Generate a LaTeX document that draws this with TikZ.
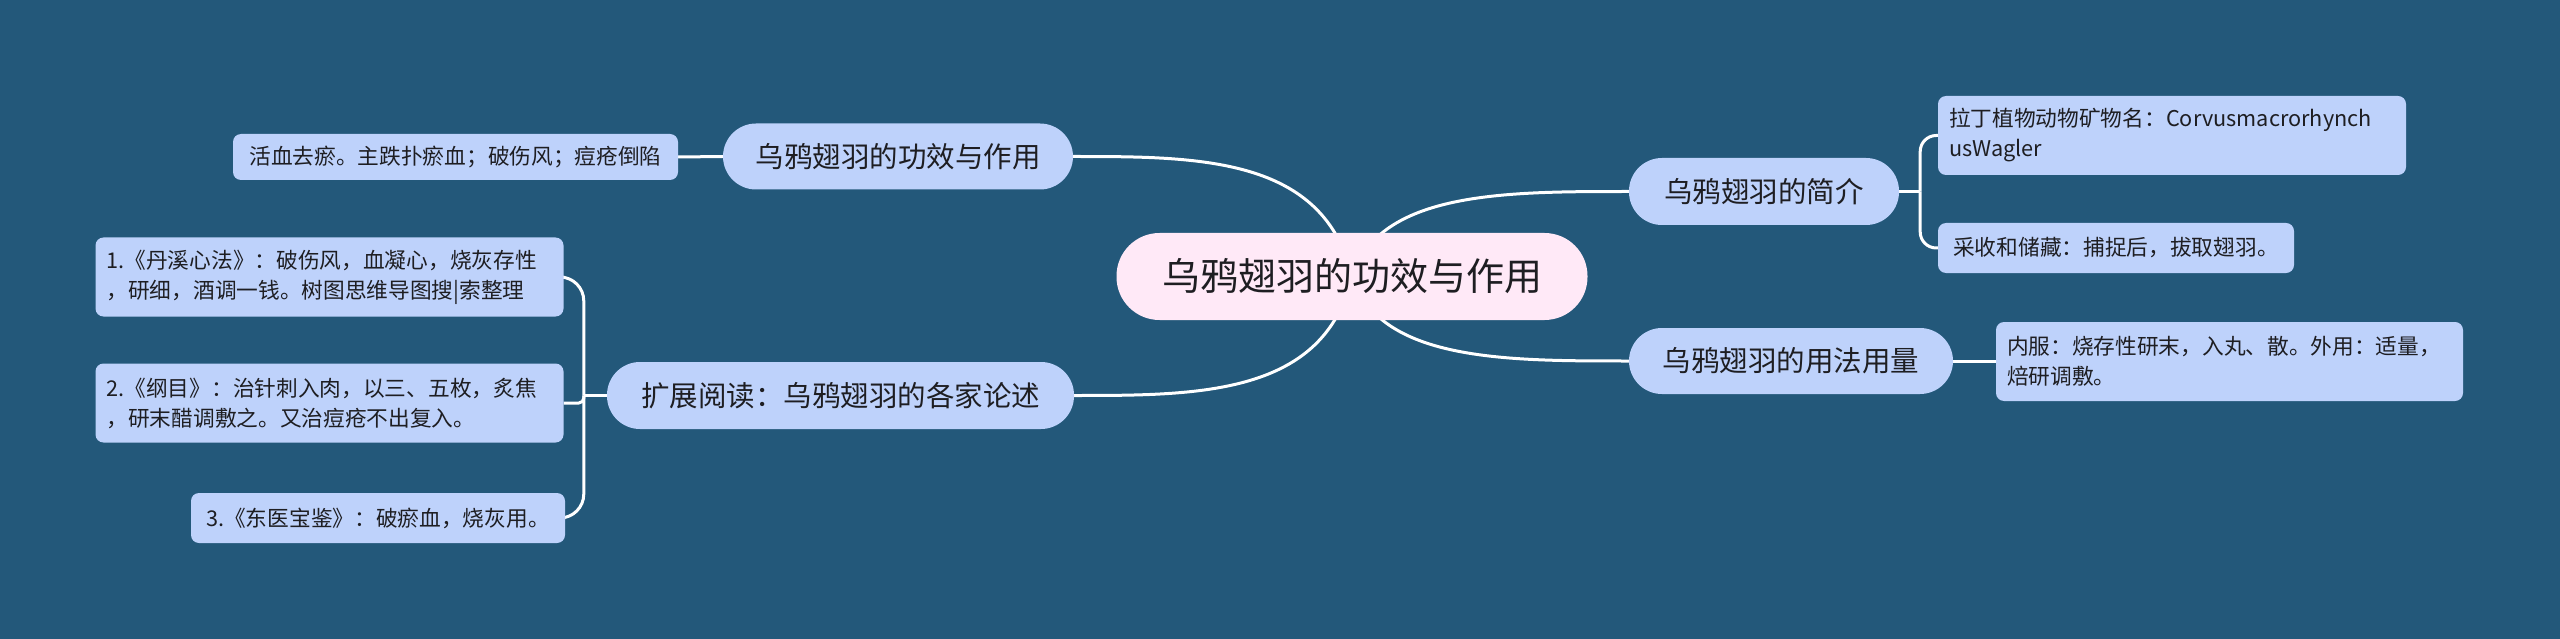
\documentclass[tikz,border=0pt]{standalone}
\usepackage{fontspec}
\setmainfont{Noto Sans CJK SC}
\usetikzlibrary{calc}
\pgfdeclarelayer{background}
\pgfsetlayers{background,main}
\definecolor{bgc}{RGB}{35,88,122}
\definecolor{nodec}{RGB}{190,210,251}
\definecolor{rootc}{RGB}{255,233,247}
\definecolor{txtc}{RGB}{30,30,34}
\tikzset{
  rootnode/.style={fill=rootc, rounded corners=43pt, minimum width=471pt, minimum height=87pt, inner sep=0pt, font=\fontsize{38}{46}\selectfont, text=txtc},
  topic/.style={fill=nodec, rounded corners=33pt, minimum height=66pt, inner sep=0pt, font=\fontsize{28.5}{34}\selectfont, text=txtc},
  leaf/.style={fill=nodec, rounded corners=8pt, inner xsep=11pt, inner ysep=0pt, font=\fontsize{21.7}{30}\selectfont, text=txtc, align=left},
  conn/.style={draw=white, line width=3pt},
}
\begin{document}
\begin{tikzpicture}[x=1pt,y=-1pt]
\useasboundingbox (0,0) rectangle (2560,639);
% central and main topics
\node[rootnode] (root) at (1352,276.5) {乌鸦翅羽的功效与作用};
\node[topic, minimum width=350pt] (n1) at (898,156.5) {乌鸦翅羽的功效与作用};
\node[topic, minimum width=467pt, minimum height=67pt] (n2) at (840.5,395.5) {扩展阅读：乌鸦翅羽的各家论述};
\node[topic, minimum width=270pt, minimum height=67pt] (n3) at (1764,191.5) {乌鸦翅羽的简介};
\node[topic, minimum width=324pt] (n4) at (1791,361) {乌鸦翅羽的用法用量};
% leaves
\node[leaf, minimum width=445pt, minimum height=46pt] (a1) at (455.5,157) {活血去瘀。主跌扑瘀血；破伤风；痘疮倒陷};
\node[leaf, text width=446pt, minimum height=79pt] (b1) at (329.5,277) {1.《丹溪心法》：破伤风，血凝心，烧灰存性\\，研细，酒调一钱。树图思维导图搜|索整理};
\node[leaf, text width=446pt, minimum height=79pt] (b2) at (329.5,403) {2.《纲目》：治针刺入肉，以三、五枚，炙焦\\，研末醋调敷之。又治痘疮不出复入。};
\node[leaf, minimum width=374pt, minimum height=50pt] (b3) at (378,518) {3.《东医宝鉴》：破瘀血，烧灰用。};
\node[leaf, text width=446pt, minimum height=79pt] (c1) at (2172,135.5) {拉丁植物动物矿物名：Corvusmacrorhynch\\usWagler};
\node[leaf, minimum width=356pt, minimum height=50pt] (c2) at (2116,248) {采收和储藏：捕捉后，拔取翅羽。};
\node[leaf, text width=445pt, minimum height=79pt] (d1) at (2229.5,361.5) {内服：烧存性研末，入丸、散。外用：适量，\\焙研调敷。};
\begin{pgfonlayer}{background}
\fill[bgc] (0,0) rectangle (2560,639);
% central connectors
\draw[conn] (root.center) .. controls (1324,156.5) and (1199,156.5) .. (n1.east);
\draw[conn] (root.center) .. controls (1324,395.5) and (1199,395.5) .. (n2.east);
\draw[conn] (root.center) .. controls (1380,191.5) and (1504,191.5) .. (n3.west);
\draw[conn] (root.center) .. controls (1380,361) and (1504,361) .. (n4.west);
% branch connectors
\draw[conn] (n1.west) -- (a1.east);
\coordinate (j2) at ($(n2.west)+(-23,0)$);
\draw[conn] (n2.west) -- (j2);
\draw[conn, rounded corners=24pt] (j2) |- (b1.east);
\draw[conn, rounded corners=5pt] (j2) |- (b2.east);
\draw[conn, rounded corners=24pt] (j2) |- (b3.east);
\coordinate (j3) at ($(n3.east)+(21,0)$);
\draw[conn] (n3.east) -- (j3);
\draw[conn, rounded corners=16pt] (j3) |- (c1.west);
\draw[conn, rounded corners=16pt] (j3) |- (c2.west);
\draw[conn] (n4.east) -- (n4.east -| d1.west);
\end{pgfonlayer}
\end{tikzpicture}
\end{document}
